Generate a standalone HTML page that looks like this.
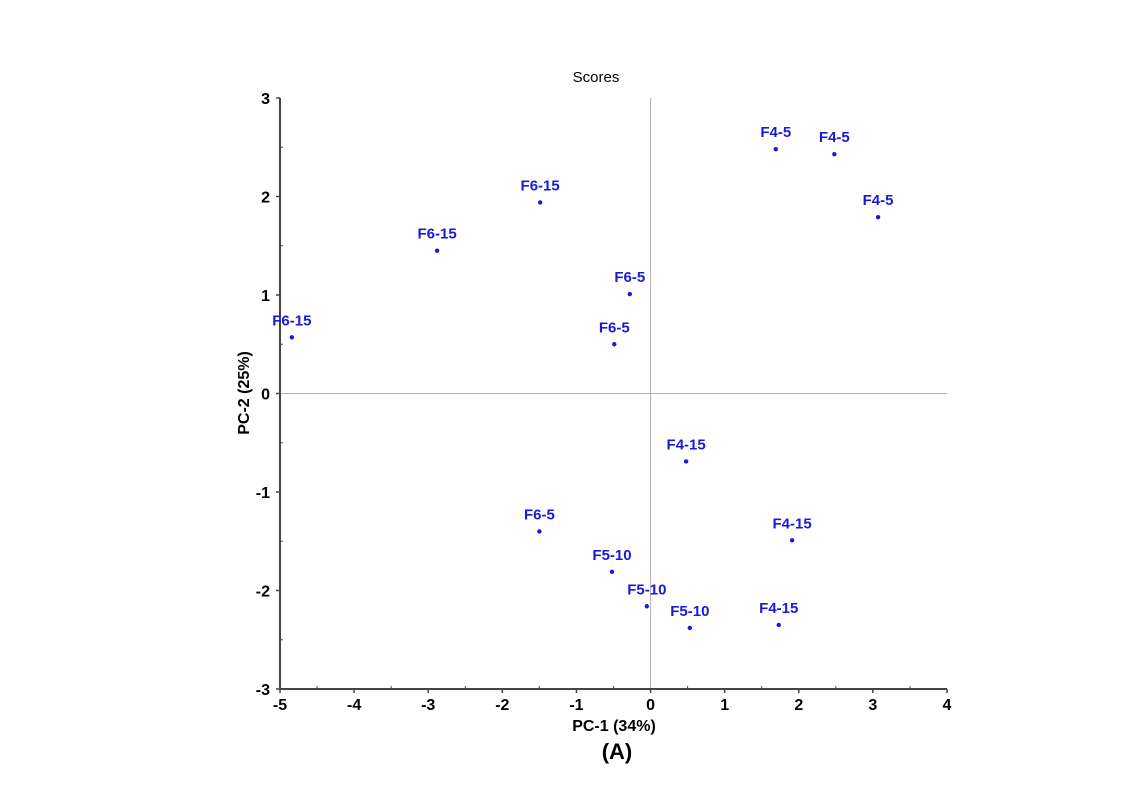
<!DOCTYPE html>
<html><head><meta charset="utf-8"><style>
html,body{margin:0;padding:0;background:#fff;}
svg{display:block;font-family:"Liberation Sans",Arial,sans-serif;}
</style></head><body>
<svg id="chart" width="1142" height="805" viewBox="0 0 1142 805">
<text x="596" y="82" text-anchor="middle" font-size="15" fill="#000">Scores</text>
<g id="axes"></g>
<g id="points"></g>
<text x="614" y="731" text-anchor="middle" font-size="16" font-weight="bold">PC-1 (34%)</text>
<text transform="translate(249,393) rotate(-90)" text-anchor="middle" font-size="16" font-weight="bold">PC-2 (25%)</text>
<text x="617" y="759" text-anchor="middle" font-size="22" font-weight="bold">(A)</text>
</svg>
<script>
const labels=["F6-15","F6-15","F6-15","F6-5","F6-5","F4-5","F4-5","F4-5","F4-15","F4-15","F4-15","F6-5","F5-10","F5-10","F5-10"];
const xs=[-4.84,-2.88,-1.49,-0.28,-0.49,1.69,2.48,3.07,0.48,1.91,1.73,-1.50,-0.52,-0.05,0.53];
const ys=[0.57,1.45,1.94,1.01,0.50,2.48,2.43,1.79,-0.69,-1.49,-2.35,-1.40,-1.81,-2.16,-2.38];
const xTicks=[-5,-4,-3,-2,-1,0,1,2,3,4];
const yTicks=[-3,-2,-1,0,1,2,3];
const NS="http://www.w3.org/2000/svg";
const X0=280,X1=947,Y0=689,Y1=98;
function sx(v){return X0+(v+5)/9*(X1-X0);}
function sy(v){return Y0-(v+3)/6*(Y0-Y1);}
function mk(t,a,p){const e=document.createElementNS(NS,t);for(const k in a)e.setAttribute(k,a[k]);p.appendChild(e);return e;}
const ax=document.getElementById('axes');
let l=mk('line',{x1:sx(0),x2:sx(0),y1:Y1,y2:Y0,stroke:'#b0b0b0','stroke-width':1},ax);


l=mk('line',{x1:X0,x2:X1,y1:sy(0),y2:sy(0),stroke:'#b0b0b0','stroke-width':1},ax);


l=mk('line',{x1:X0,x2:X0,y1:Y1,y2:Y0,stroke:'#444','stroke-width':2},ax);


l=mk('line',{x1:X0,x2:X1,y1:Y0,y2:Y0,stroke:'#444','stroke-width':2},ax);


xTicks.forEach((v,i)=>{
 mk('line',{x1:sx(v),x2:sx(v),y1:Y0,y2:Y0+4,stroke:'#444','stroke-width':1.5},ax);
 if(i<xTicks.length-1) mk('line',{x1:sx(v+0.5),x2:sx(v+0.5),y1:Y0,y2:Y0-3,stroke:'#444','stroke-width':1},ax);
 const t=mk('text',{x:sx(v),y:Y0+21,'text-anchor':'middle','font-size':16,'font-weight':'bold'},ax);
 t.textContent=v;
 
 
});
yTicks.forEach((v,i)=>{
 mk('line',{x1:X0-4,x2:X0,y1:sy(v),y2:sy(v),stroke:'#444','stroke-width':1.5},ax);
 if(i<yTicks.length-1) mk('line',{x1:X0,x2:X0+3,y1:sy(v+0.5),y2:sy(v+0.5),stroke:'#444','stroke-width':1},ax);
 const t=mk('text',{x:X0-10,y:sy(v)+6,'text-anchor':'end','font-size':16,'font-weight':'bold'},ax);
 t.textContent=v;
 
 
});
const pg=document.getElementById('points');
xs.forEach((v,i)=>{
 const c=mk('circle',{cx:sx(v),cy:sy(ys[i]),r:2.2,fill:'#1a1ad6'},pg);
 
 
 const t=mk('text',{x:sx(v),y:sy(ys[i])-12,'text-anchor':'middle','font-size':15,'font-weight':'bold',fill:'#1a1ad6'},pg);
 t.textContent=labels[i];
 
 
});
</script>
</body></html>
